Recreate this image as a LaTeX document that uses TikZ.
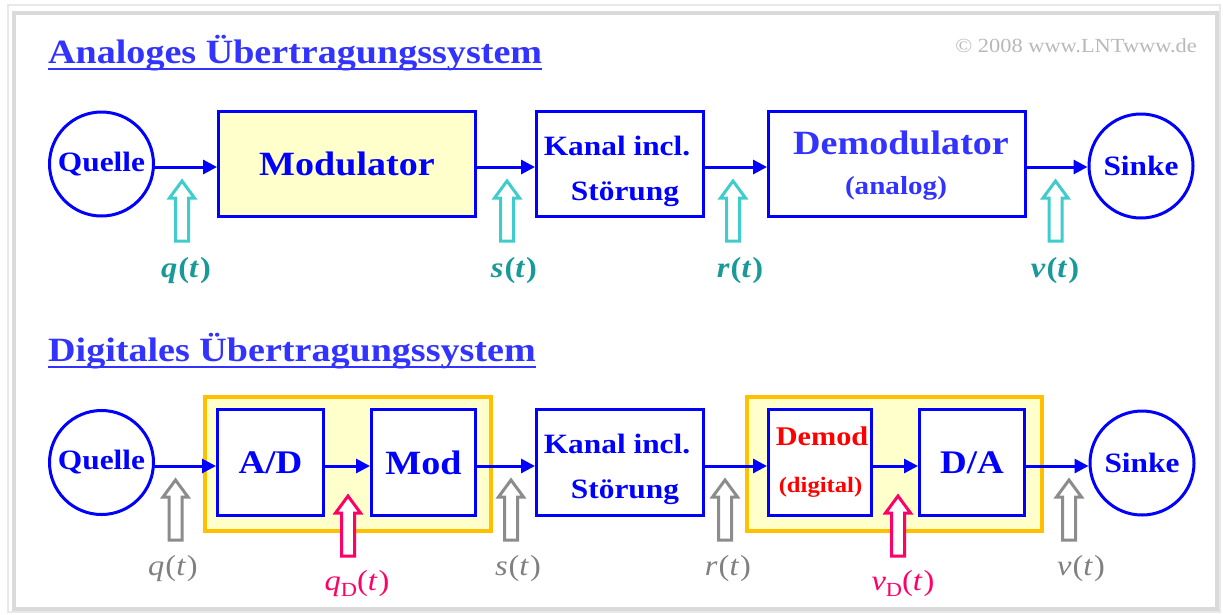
\documentclass[tikz,border=0pt]{standalone}
\usepackage{fontspec}
\setmainfont[FakeStretch=1.12]{Liberation Serif}
\usetikzlibrary{arrows.meta,calc}
\definecolor{bx}{RGB}{0,0,255}
\definecolor{ttl}{RGB}{51,51,255}
\definecolor{yel}{RGB}{255,255,204}
\definecolor{gold}{RGB}{255,192,0}
\definecolor{cyanA}{RGB}{64,204,204}
\definecolor{cyanT}{RGB}{26,153,153}
\definecolor{grayA}{RGB}{140,140,140}
\definecolor{grayT}{RGB}{128,128,128}
\definecolor{pinkA}{RGB}{255,0,102}
\definecolor{frameA}{RGB}{232,232,232}
\definecolor{frameB}{RGB}{218,218,218}
\definecolor{copyc}{RGB}{185,185,185}
\definecolor{redT}{RGB}{255,0,0}
\newcommand\fs[1]{\fontsize{#1}{#1}\selectfont}
\newcommand\sigt[1]{\textit{#1}\kern1pt{\upshape(}\textit{t}\kern1pt{\upshape)}}
\newcommand\sigd[1]{\textit{#1}\raisebox{-6pt}{\upshape\fs{20}D}{\upshape(}\textit{t}\kern1pt{\upshape)}}
\begin{document}
\begin{tikzpicture}[x=1pt,y=-1pt,
  blk/.style={draw=bx, line width=3pt, inner sep=0pt, text=bx, font=\bfseries\fs{34}},
  src/.style={draw=bx, line width=3pt, circle, minimum size=104pt, inner sep=0pt, text=bx, font=\bfseries\fs{28}},
  grp/.style={draw=gold, fill=yel, line width=4pt, inner sep=0pt},
  sig/.style={draw=bx, line width=3pt, -{Triangle[length=14pt,width=14pt]}},
  btxt/.style={anchor=base, inner sep=0pt, font=\bfseries\fs{28}, text=bx},
  lblA/.style={anchor=base, inner sep=0pt, font=\bfseries\fs{29}, text=cyanT},
  lblB/.style={anchor=base, inner sep=0pt, font=\fs{29}, text=grayT},
  lblC/.style={anchor=base, inner sep=0pt, font=\fs{29}, text=pinkA},
  ttlstyle/.style={anchor=base west, inner sep=0pt, font=\bfseries\fs{34}, text=ttl},
  pics/uparrow/.style={code={
    \draw[line width=3pt, fill=white, miter limit=10]
      (-6.5,60) -- (6.5,60) -- (6.5,17) -- (12.5,17) -- (0,0) -- (-12.5,17) -- (-6.5,17) -- cycle;}}
]
\useasboundingbox[fill=white] (0,0) rectangle (1223,614);
% frame
\draw[frameA, line width=2pt] (8,5) rectangle (1220,612);
\draw[frameB, line width=4pt] (14,13) rectangle (1217,609);

% titles
\node[ttlstyle] (T1) at (48,63) {Analoges Übertragungssystem};
\draw[ttl, line width=2pt] ([yshift=-6pt]T1.base west) -- ([yshift=-6pt]T1.base east);
\node[ttlstyle] (T2) at (48,361) {Digitales Übertragungssystem};
\draw[ttl, line width=2pt] ([yshift=-6pt]T2.base west) -- ([yshift=-6pt]T2.base east);
\node[anchor=base east, inner sep=0pt, text=copyc, font=\fs{20}] (C) at (1197,52) {© 2008 www.LNTwww.de};

% ---------- analog row ----------
\coordinate (r1) at (0,167);
\node[src] (Q1) at (101.5,164) {Quelle};
\node[blk, fill=yel, minimum width=257pt, minimum height=105pt] (M1) at (347,164) {Modulator};
\node[blk, minimum width=167pt, minimum height=105pt] (K1) at (620,164) {};
\node[btxt] (K1a) at (617,155) {Kanal incl.};
\node[btxt] (K1b) at (625,200) {Störung};
\node[blk, minimum width=257pt, minimum height=105pt] (D1) at (897,164) {};
\node[anchor=base, inner sep=0pt, font=\bfseries\fs{34}, text=ttl] (D1a) at (901,154) {Demodulator};
\node[anchor=base, inner sep=0pt, font=\bfseries\fs{26}, text=ttl] (D1b) at (896,194) {(analog)};
\node[src] (S1) at (1141,166) {Sinke};

\draw[sig] (Q1.east |- r1) -- (M1.west |- r1);
\draw[sig] (M1.east |- r1) -- (K1.west |- r1);
\draw[sig] (K1.east |- r1) -- (D1.west |- r1);
\draw[sig] (D1.east |- r1) -- (S1.west |- r1);

\pic[color=cyanA] at (182,181) {uparrow};
\pic[color=cyanA] at (507,181) {uparrow};
\pic[color=cyanA] at (733,181) {uparrow};
\pic[color=cyanA] at (1055.5,181) {uparrow};
\node[lblA] (lq1) at (186,277) {\sigt{q}};
\node[lblA] (ls1) at (514,277) {\sigt{s}};
\node[lblA] (lr1) at (740,277) {\sigt{r}};
\node[lblA] (lv1) at (1055,277) {\sigt{v}};

% ---------- digital row ----------
\coordinate (r2) at (0,466);
\node[grp, minimum width=286pt, minimum height=134pt] (G1) at (348,464) {};
\node[grp, minimum width=295pt, minimum height=134pt] (G2) at (894.5,464) {};
\node[src] (Q2) at (101.5,462.5) {Quelle};
\node[blk, fill=white, minimum width=106pt, minimum height=106pt, font=\bfseries\fs{33}] (AD) at (270.5,462.5) {A/D};
\node[blk, fill=white, minimum width=104pt, minimum height=106pt] (MD) at (423.5,462.5) {Mod};
\node[blk, minimum width=167pt, minimum height=106pt] (K2) at (620,462.5) {};
\node[btxt] (K2a) at (617,453) {Kanal incl.};
\node[btxt] (K2b) at (625,498) {Störung};
\node[blk, fill=white, minimum width=103pt, minimum height=106pt] (DM) at (820,462.5) {};
\node[anchor=base, inner sep=0pt, font=\bfseries\fs{27}, text=redT] (DMa) at (822,445) {Demod};
\node[anchor=base, inner sep=0pt, font=\bfseries\fs{22}, text=redT] (DMb) at (820.5,492) {(digital)};
\node[blk, fill=white, minimum width=105pt, minimum height=106pt, font=\bfseries\fs{33}] (DA) at (972,462.5) {D/A};
\node[src] (S2) at (1142,463) {Sinke};

\draw[sig] (Q2.east |- r2) -- (AD.west |- r2);
\draw[sig] (AD.east |- r2) -- (MD.west |- r2);
\draw[sig] (MD.east |- r2) -- (K2.west |- r2);
\draw[sig] (K2.east |- r2) -- (DM.west |- r2);
\draw[sig] (DM.east |- r2) -- (DA.west |- r2);
\draw[sig] (DA.east |- r2) -- (S2.west |- r2);

\pic[color=grayA] at (175.5,480) {uparrow};
\pic[color=grayA] at (511,480) {uparrow};
\pic[color=grayA] at (725,480) {uparrow};
\pic[color=grayA] at (1069,480) {uparrow};
\pic[color=pinkA] at (348,496) {uparrow};
\pic[color=pinkA] at (898,496) {uparrow};
\node[lblB] (lq2) at (173,575) {\sigt{q}};
\node[lblB] (ls2) at (518,575) {\sigt{s}};
\node[lblB] (lr2) at (728,575) {\sigt{r}};
\node[lblB] (lv2) at (1081,575) {\sigt{v}};
\node[lblC] (lqd) at (357,590) {\sigd{q}};
\node[lblC] (lvd) at (903,590) {\sigd{v}};
\end{tikzpicture}
\end{document}
